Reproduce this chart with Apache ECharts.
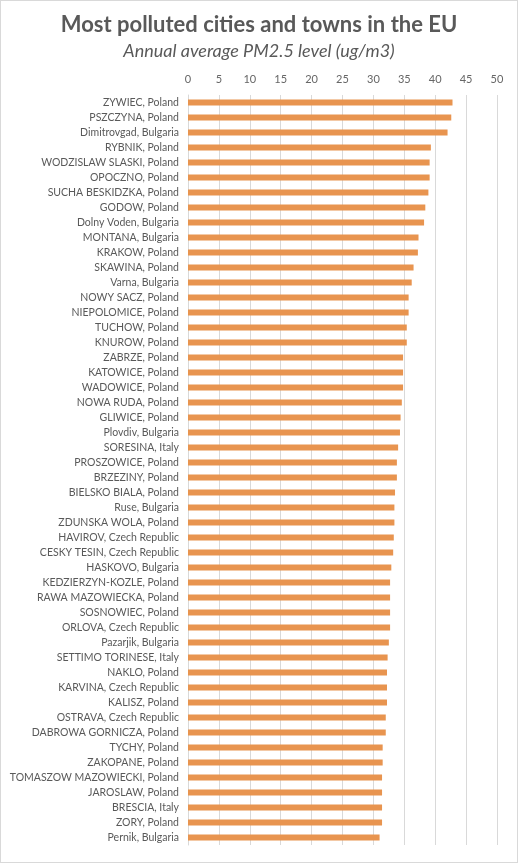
<!DOCTYPE html>
<html>
<head>
<meta charset="utf-8">
<script src="https://cdn.jsdelivr.net/npm/echarts@6/dist/echarts.min.js"></script>
<style>
html,body{margin:0;padding:0;background:#fff;}
#chart{width:516px;height:861px;border:1px solid #d9d9d9;}
</style>
</head>
<body>
<div id="chart"></div>
<script>
const titleText = 'Most polluted cities and towns in the EU';
const subtitleText = 'Annual average PM2.5 level (ug/m3)';
const cities = [
  'ZYWIEC, Poland','PSZCZYNA, Poland','Dimitrovgad, Bulgaria','RYBNIK, Poland','WODZISLAW SLASKI, Poland',
  'OPOCZNO, Poland','SUCHA BESKIDZKA, Poland','GODOW, Poland','Dolny Voden, Bulgaria','MONTANA, Bulgaria',
  'KRAKOW, Poland','SKAWINA, Poland','Varna, Bulgaria','NOWY SACZ, Poland','NIEPOLOMICE, Poland',
  'TUCHOW, Poland','KNUROW, Poland','ZABRZE, Poland','KATOWICE, Poland','WADOWICE, Poland',
  'NOWA RUDA, Poland','GLIWICE, Poland','Plovdiv, Bulgaria','SORESINA, Italy','PROSZOWICE, Poland',
  'BRZEZINY, Poland','BIELSKO BIALA, Poland','Ruse, Bulgaria','ZDUNSKA WOLA, Poland','HAVIROV, Czech Republic',
  'CESKY TESIN, Czech Republic','HASKOVO, Bulgaria','KEDZIERZYN-KOZLE, Poland','RAWA MAZOWIECKA, Poland','SOSNOWIEC, Poland',
  'ORLOVA, Czech Republic','Pazarjik, Bulgaria','SETTIMO TORINESE, Italy','NAKLO, Poland','KARVINA, Czech Republic',
  'KALISZ, Poland','OSTRAVA, Czech Republic','DABROWA GORNICZA, Poland','TYCHY, Poland','ZAKOPANE, Poland',
  'TOMASZOW MAZOWIECKI, Poland','JAROSLAW, Poland','BRESCIA, Italy','ZORY, Poland','Pernik, Bulgaria'
];
const pm25 = [
  42.8, 42.6, 42.0, 39.3, 39.1,
  39.1, 38.9, 38.4, 38.2, 37.3,
  37.2, 36.5, 36.2, 35.7, 35.7,
  35.4, 35.4, 34.8, 34.8, 34.8,
  34.6, 34.4, 34.3, 34.0, 33.8,
  33.8, 33.5, 33.4, 33.4, 33.3,
  33.2, 32.9, 32.7, 32.7, 32.7,
  32.7, 32.5, 32.3, 32.2, 32.2,
  32.2, 32.0, 32.0, 31.5, 31.5,
  31.4, 31.4, 31.4, 31.4, 31.0
];
const axisMin = 0, axisMax = 50, axisStep = 5;

const chart = echarts.init(document.getElementById('chart'), null, {renderer:'canvas'});
chart.setOption({
  animation:false,
  backgroundColor:'#ffffff',
  title:[
    {text:titleText, left:'center', top:8,
     textStyle:{fontFamily:'Lato', fontWeight:'bold', fontSize:22, color:'#595959'}},
    {text:subtitleText, left:'center', top:36,
     textStyle:{fontFamily:'Lato', fontStyle:'italic', fontWeight:'normal', fontSize:18, color:'#595959'}}
  ],
  grid:{left:187, right:20, top:94, bottom:17, containLabel:false},
  xAxis:{
    type:'value', position:'top', min:axisMin, max:axisMax, interval:axisStep,
    axisLine:{show:false}, axisTick:{show:false},
    axisLabel:{color:'#666666', fontFamily:'Lato', fontSize:11, margin:10},
    splitLine:{show:true, lineStyle:{color:'#d9d9d9', width:1}}
  },
  yAxis:{
    type:'category', data:cities, inverse:true,
    axisLine:{show:true, lineStyle:{color:'#d9d9d9'}}, axisTick:{show:false},
    axisLabel:{color:'#595959', fontFamily:'Lato', fontSize:10.5, margin:9, interval:0}
  },
  series:[{
    type:'bar', data:pm25, barWidth:6,
    itemStyle:{color:'#E8944F'}
  }]
});
</script>
</body>
</html>
